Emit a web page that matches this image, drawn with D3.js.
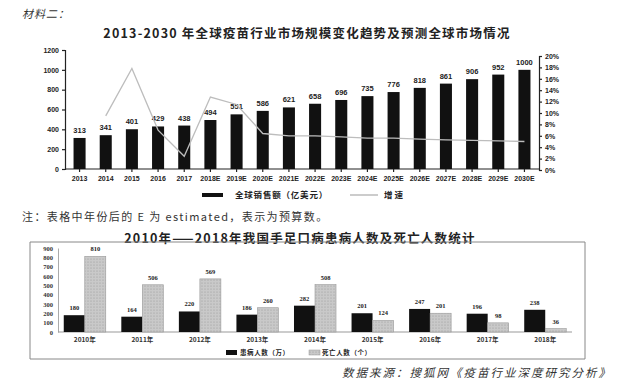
<!DOCTYPE html>
<html><head><meta charset="utf-8">
<script src="https://cdn.jsdelivr.net/npm/d3@7"></script>
<style>body{margin:0;background:#fff}svg{display:block}</style>
</head><body>
<script>
// ---- Top chart data ----
const years = ["2013","2014","2015","2016","2017","2018E","2019E","2020E","2021E","2022E","2023E","2024E","2025E","2026E","2027E","2028E","2029E","2030E"];
const sales = [313,341,401,429,438,494,551,586,621,658,696,735,776,818,861,906,952,1000];
const growth = [null,9.5,17.8,7.0,2.4,12.8,11.5,6.4,6.0,6.0,5.8,5.6,5.6,5.4,5.3,5.2,5.1,5.0];
const leftTicks = [0,200,400,600,800,1000,1200];
const rightTicks = [0,2,4,6,8,10,12,14,16,18,20];
// ---- Bottom chart data ----
const hfYears = ["2010年","2011年","2012年","2013年","2014年","2015年","2016年","2017年","2018年"];
const patients = [180,164,220,186,282,201,247,196,238];
const deaths = [810,506,569,260,508,124,201,98,36];
const bottomTicks = [0,100,200,300,400,500,600,700,800,900];

const W=625,H=388;
const svg=d3.select("body").append("svg").attr("width",W).attr("height",H);
const cjk='"Noto Sans CJK SC","Noto Sans",sans-serif';
const serif='"Noto Sans CJK SC",serif';

svg.append("text").attr("x",22).attr("y",18).attr("font-family",cjk).attr("font-size",11).attr("fill","#333").attr("font-style","italic").attr("letter-spacing",1).text("材料二：");
svg.append("text").attr("x",307).attr("y",38).attr("text-anchor","middle").attr("font-family",serif).attr("font-size",12.5).attr("font-weight","bold").attr("letter-spacing",1.2).attr("fill","#222").text("2013-2030 年全球疫苗行业市场规模变化趋势及预测全球市场情况");

// top scales
const x=d3.scaleBand().domain(years).range([67,537]).paddingInner(0.54).paddingOuter(0.25);
const yL=d3.scaleLinear().domain([0,1200]).range([169,50]);
const yR=d3.scaleLinear().domain([0,20]).range([170,56]);
const gTop=svg.append("g");
const axL=gTop.append("g").attr("transform","translate(65,0)").call(d3.axisLeft(yL).tickValues(leftTicks).tickSize(3).tickFormat(d3.format("d")));
const axR=gTop.append("g").attr("transform","translate(539,0)").call(d3.axisRight(yR).tickValues(rightTicks).tickSize(3).tickFormat(d=>d+"%"));
const axB=gTop.append("g").attr("transform","translate(0,169)").call(d3.axisBottom(x).tickSize(3).tickSizeOuter(0));
axB.select(".domain").attr("d","M65,0H539");
[axL,axR,axB].forEach(a=>{a.selectAll("text").attr("font-family","Arial,Liberation Sans,sans-serif").attr("font-size",7).attr("font-weight","bold").attr("fill","#222");a.selectAll("path,line").attr("stroke","#222").attr("stroke-width",1.2);});
axB.selectAll("text").attr("dy","0.9em");

gTop.selectAll("rect.s").data(sales).join("rect").attr("class","s")
 .attr("x",(d,i)=>x(years[i])).attr("width",x.bandwidth()).attr("y",d=>yL(d)).attr("height",d=>yL(0)-yL(d)).attr("fill","#111");
gTop.selectAll("text.sl").data(sales).join("text").attr("class","sl")
 .attr("x",(d,i)=>x(years[i])+x.bandwidth()/2).attr("y",d=>yL(d)-5).attr("text-anchor","middle")
 .attr("font-family","Arial,Liberation Sans,sans-serif").attr("font-size",7.5).attr("font-weight","bold").attr("fill","#222").text(d=>d);
const line=d3.line().defined(d=>d!=null).x((d,i)=>x(years[i])+x.bandwidth()/2).y(d=>yR(d));
gTop.append("path").datum(growth).attr("d",line).attr("fill","none").attr("stroke","#bdbdbd").attr("stroke-width",1.3);

// top legend
svg.append("rect").attr("x",202).attr("y",193).attr("width",21).attr("height",4).attr("fill","#111");
svg.append("text").attr("x",235).attr("y",198).attr("font-family",cjk).attr("font-size",8.5).attr("font-weight","bold").attr("letter-spacing",0.8).attr("fill","#222").text("全球销售额（亿美元）");
svg.append("line").attr("x1",350).attr("x2",378).attr("y1",195).attr("y2",195).attr("stroke","#999").attr("stroke-width",1);
svg.append("text").attr("x",384).attr("y",198).attr("font-family",cjk).attr("font-size",8.5).attr("font-weight","bold").attr("fill","#222").text("增 速");

// note
svg.append("text").attr("x",22).attr("y",221).attr("font-family",cjk).attr("font-size",11).attr("letter-spacing",1.4).attr("fill","#333").text("注：表格中年份后的 E 为 estimated，表示为预算数。");

// bottom chart
svg.append("text").attr("x",300).attr("y",243).attr("text-anchor","middle").attr("font-family",serif).attr("font-size",12.5).attr("font-weight","bold").attr("letter-spacing",1.2).attr("fill","#222").text("2010年——2018年我国手足口病患病人数及死亡人数统计");
svg.append("path").attr("d","M30,242H585V359H30Z").attr("fill","none").attr("stroke","#888").attr("stroke-width",1);

const x0=d3.scaleBand().domain(hfYears).range([58,572]).paddingInner(0.27).paddingOuter(0.1);
const x1=d3.scaleBand().domain(["p","d"]).range([0,x0.bandwidth()]).padding(0);
const yB=d3.scaleLinear().domain([0,900]).range([332,248]);
const gB=svg.append("g");
const aL=gB.append("g").attr("transform","translate(58,0)").call(d3.axisLeft(yB).tickValues(bottomTicks).tickSize(0).tickPadding(5));
aL.select(".domain").attr("stroke","#aaa");
aL.selectAll("text").attr("font-family","Liberation Serif,serif").attr("font-size",6.5).attr("font-weight","bold").attr("fill","#333");
const aB=gB.append("g").attr("transform","translate(0,332)").call(d3.axisBottom(x0).tickSize(0).tickPadding(5));
aB.select(".domain").attr("d","M58,0H572").attr("stroke","#999");
aB.selectAll("text").attr("font-family",cjk).attr("font-size",6.5).attr("font-weight","bold").attr("fill","#333");

const defs=svg.append("defs");
const pat=defs.append("pattern").attr("id","dots").attr("width",3).attr("height",3).attr("patternUnits","userSpaceOnUse");
pat.append("rect").attr("width",3).attr("height",3).attr("fill","#c9c9c9");
pat.append("circle").attr("cx",1).attr("cy",1).attr("r",0.6).attr("fill","#9a9a9a");

gB.selectAll("rect.p").data(patients).join("rect").attr("class","p")
 .attr("x",(d,i)=>x0(hfYears[i])+x1("p")).attr("width",x1.bandwidth()).attr("y",d=>yB(d)).attr("height",d=>yB(0)-yB(d)).attr("fill","#111");
gB.selectAll("rect.d").data(deaths).join("rect").attr("class","d")
 .attr("x",(d,i)=>x0(hfYears[i])+x1("d")).attr("width",x1.bandwidth()).attr("y",d=>yB(d)).attr("height",d=>yB(0)-yB(d)).attr("fill","url(#dots)").attr("stroke","#999").attr("stroke-width",0.6);
gB.selectAll("text.pl").data(patients).join("text").attr("class","pl")
 .attr("x",(d,i)=>x0(hfYears[i])+x1("p")+x1.bandwidth()/2).attr("y",d=>yB(d)-5).attr("text-anchor","middle")
 .attr("font-family","Liberation Serif,serif").attr("font-size",6.5).attr("font-weight","bold").attr("fill","#222").text(d=>d);
gB.selectAll("text.dl").data(deaths).join("text").attr("class","dl")
 .attr("x",(d,i)=>x0(hfYears[i])+x1("d")+x1.bandwidth()/2).attr("y",d=>yB(d)-5).attr("text-anchor","middle")
 .attr("font-family","Liberation Serif,serif").attr("font-size",6.5).attr("font-weight","bold").attr("fill","#222").text(d=>d);

// bottom legend
svg.append("rect").attr("x",226).attr("y",350).attr("width",11).attr("height",5).attr("fill","#111");
svg.append("text").attr("x",240).attr("y",355).attr("font-family",cjk).attr("font-size",6.5).attr("font-weight","bold").attr("letter-spacing",0.6).attr("fill","#222").text("患病人数（万）");
svg.append("rect").attr("x",309).attr("y",350).attr("width",11).attr("height",5).attr("fill","url(#dots)").attr("stroke","#999").attr("stroke-width",0.5);
svg.append("text").attr("x",322).attr("y",355).attr("font-family",cjk).attr("font-size",6.5).attr("font-weight","bold").attr("letter-spacing",0.6).attr("fill","#222").text("死亡人数（个）");

svg.append("text").attr("x",342).attr("y",377).attr("font-family",cjk).attr("font-size",11.5).attr("letter-spacing",2).attr("fill","#333").attr("font-style","italic").text("数据来源：搜狐网《疫苗行业深度研究分析》");
</script>
</body></html>
